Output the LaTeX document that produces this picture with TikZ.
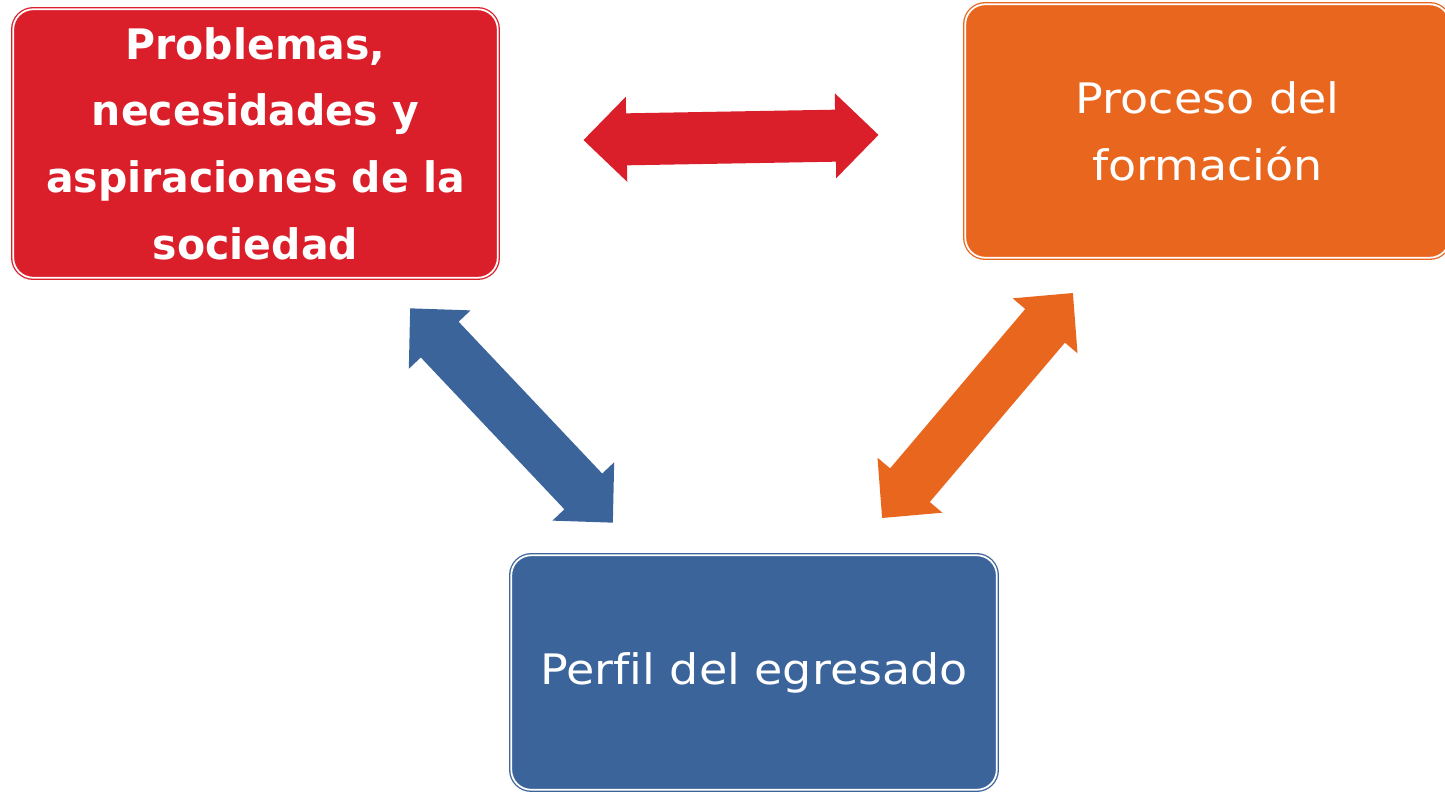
\documentclass[tikz,border=0pt]{standalone}
\usepackage{fontspec}
\setmainfont{DejaVu Sans}
\newfontfamily\regfont{DejaVu Sans}[FakeStretch=1.095,Ligatures=NoCommon]
\newfontfamily\bfam{DejaVu Sans}[FakeStretch=0.976,Ligatures=NoCommon]
\definecolor{redC}{RGB}{218,31,42}
\definecolor{orangeC}{RGB}{233,102,31}
\definecolor{blueC}{RGB}{59,100,155}
\tikzset{
  box/.style={rounded corners=20pt, draw=#1, double=white, line width=1.3pt,
    double distance=1.8pt, fill=#1, text=white, align=center, inner sep=0pt},
  boldtxt/.style={font=\fontsize{42}{66.7}\selectfont\bfam\bfseries},
  regtxt/.style={font=\fontsize{42}{66.7}\selectfont\regfont},
  pics/dblarrow/.style={code={
    \fill (-147.5,0) -- (-104.5,42.5) -- (-104.5,26) -- (104.5,26) -- (104.5,42.5)
      -- (147.5,0) -- (104.5,-42.5) -- (104.5,-26) -- (-104.5,-26) -- (-104.5,-42.5) -- cycle;}}
}
\begin{document}
\begin{tikzpicture}[x=1pt,y=-1pt]
\useasboundingbox[fill=white] (0,0) rectangle (1445,793);
\node[box=redC, boldtxt, minimum width=484.5pt, minimum height=268.5pt] (prob) at (255.5,143.5)
  {Problemas,\\necesidades y\\aspiraciones de la\\sociedad};
\node[box=orangeC, regtxt, minimum width=484.5pt, minimum height=253.5pt] (proc) at (1207.5,131)
  {Proceso del\\formación};
\node[box=blueC, regtxt, minimum width=485.5pt, minimum height=234.5pt] (perf) at (754,672.5)
  {Perfil del egresado};
\pic[redC, rotate=1] (a1) at (731,137.5) {dblarrow};
\pic[blueC, rotate=-46.6] (a2) at (511.5,415.5) {dblarrow};
\pic[orangeC, rotate=49.7] (a3) at (977.5,405.5) {dblarrow};
\end{tikzpicture}
\end{document}
